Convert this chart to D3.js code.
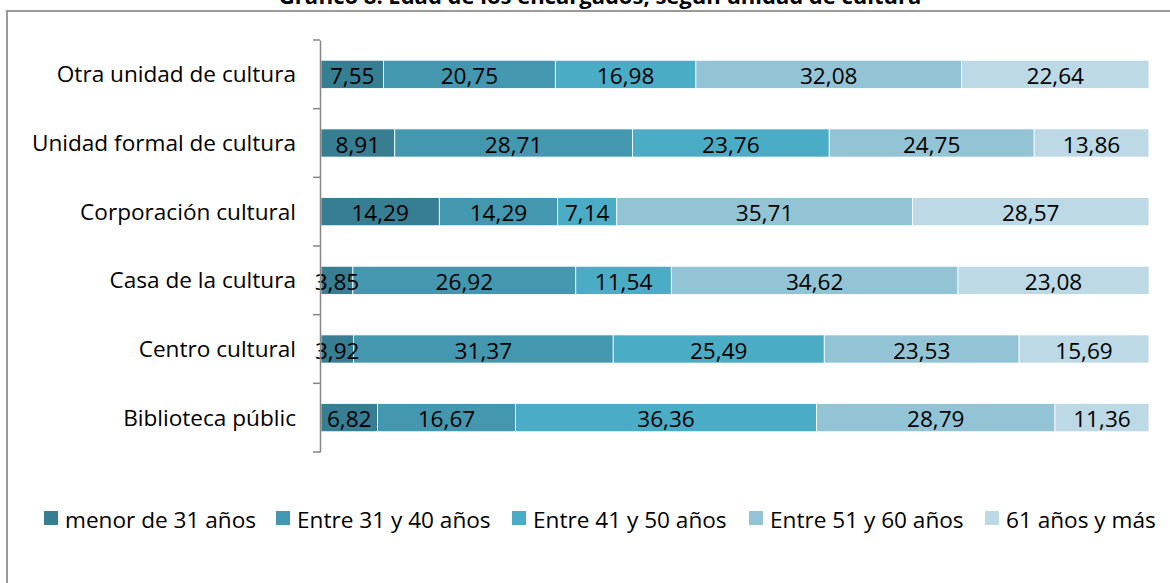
<!DOCTYPE html>
<html><head><meta charset="utf-8">
<script src="https://cdn.jsdelivr.net/npm/d3@7"></script>
<style>body{margin:0;background:#fff}svg{display:block}</style>
</head><body>
<script>
const title = "Gráfico 8. Edad de los encargados, según unidad de cultura";
const categories = ["Otra unidad de cultura","Unidad formal de cultura","Corporación cultural","Casa de la cultura","Centro cultural","Biblioteca públic"];
const seriesNames = ["menor de 31 años","Entre 31 y 40 años","Entre 41 y 50 años","Entre 51 y 60 años","61 años y más"];
const menor31 = [7.55, 8.91, 14.29, 3.85, 3.92, 6.82];
const entre31_40 = [20.75, 28.71, 14.29, 26.92, 31.37, 16.67];
const entre41_50 = [16.98, 23.76, 7.14, 11.54, 25.49, 36.36];
const entre51_60 = [32.08, 24.75, 35.71, 34.62, 23.53, 28.79];
const mas61 = [22.64, 13.86, 28.57, 23.08, 15.69, 11.36];
const colors = ["#377e92","#4397ae","#4bacc6","#93c4d5","#bcd9e5"];

const W = 1170, H = 583;
const svg = d3.select("body").append("svg").attr("width", W).attr("height", H);
const font = "'Open Sans', sans-serif";
const fs = "22.6px";

// frame
svg.append("path").attr("d", `M7,${H} V11 H${W}`).attr("fill","none").attr("stroke","#9a9a9a").attr("stroke-width",2);
svg.append("text").attr("x", 600).attr("y", 4).attr("text-anchor","middle")
  .style("font-family", font).style("font-weight","bold").style("font-size","22px").text(title);

const series = [menor31, entre31_40, entre41_50, entre51_60, mas61];
const rows = categories.map((c,i)=>{ const o={cat:c}; seriesNames.forEach((s,j)=>o[s]=series[j][i]); return o; });
const stack = d3.stack().keys(seriesNames)(rows);

const x = d3.scaleLinear().domain([0,100]).range([321,1149]);
const y = d3.scaleBand().domain(categories).range([40,452]).paddingInner(0.59).paddingOuter(0.295);

const g = svg.append("g");
stack.forEach((layer,j)=>{
  g.selectAll(null).data(layer).enter().append("rect")
    .attr("x", d=>x(d[0])).attr("width", d=>x(d[1])-x(d[0]))
    .attr("y", (d,i)=>y(categories[i])).attr("height", y.bandwidth())
    .attr("fill", colors[j]).attr("stroke","#fff").attr("stroke-width",0.8);
});
stack.forEach((layer,j)=>{
  g.selectAll(null).data(layer).enter().append("text")
    .attr("x", d=>(x(d[0])+x(d[1]))/2).attr("y", (d,i)=>y(categories[i])+y.bandwidth()/2+1)
    .attr("text-anchor","middle").attr("dominant-baseline","central")
    .style("font-family", font).style("font-size",fs).attr("fill","#000")
    .text(d=>d3.format(".2f")(d[1]-d[0]).replace(".",","));
});

// axis
const band = d3.scaleBand().domain(categories).range([40,452]);
const ax = svg.append("g").attr("transform","translate(320,0)")
  .call(d3.axisLeft(band).tickSize(0).tickPadding(24));
ax.select(".domain").attr("stroke","#868686").attr("stroke-width",1.5);
ax.selectAll("text").style("font-family", font).style("font-size",fs).attr("fill","#000").attr("dy","0.35em");
const bounds = [40].concat(categories.map(c=>band(c)+band.bandwidth()));
svg.selectAll(null).data(bounds).enter().append("line")
  .attr("x1",313).attr("x2",320).attr("y1",d=>d).attr("y2",d=>d)
  .attr("stroke","#868686").attr("stroke-width",1.5);

// legend
const legX = [44, 276, 512, 749, 985];
const lg = svg.append("g");
seriesNames.forEach((s,j)=>{
  lg.append("rect").attr("x",legX[j]).attr("y",511).attr("width",14).attr("height",14).attr("fill",colors[j]);
  lg.append("text").attr("x",legX[j]+21).attr("y",519).attr("dominant-baseline","central")
    .style("font-family", font).style("font-size",fs).text(s);
});
</script>
</body></html>
